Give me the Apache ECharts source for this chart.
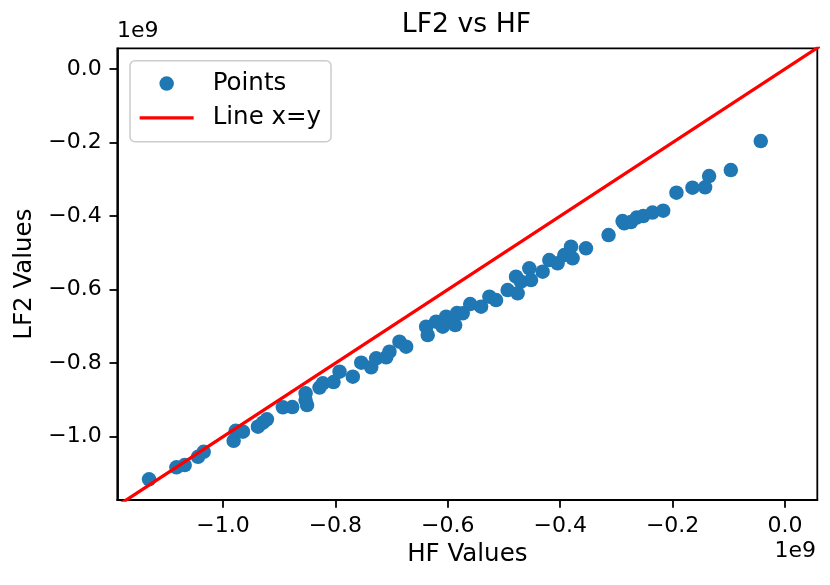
<!DOCTYPE html>
<html>
<head>
<meta charset="utf-8">
<script src="https://cdn.jsdelivr.net/npm/echarts@6/dist/echarts.min.js"></script>
<style>
  html, body { margin: 0; padding: 0; background: #fff; }
  #chart-container { width: 830px; height: 585px; }
</style>
</head>
<body>
<div id="chart-container"></div>
<script>
// values in units of 1e9
const hfValues = [
  -1.1315, -1.0828, -1.0681, -1.0444, -1.0343, -0.9810, -0.9774, -0.9645, -0.9378, -0.9289,
  -0.9218, -0.8934, -0.8767, -0.8504, -0.8530, -0.8530, -0.8282, -0.8223, -0.8033, -0.7926,
  -0.7690, -0.7540, -0.7363, -0.7274, -0.7096, -0.7038, -0.6860, -0.6741, -0.6385, -0.6357,
  -0.6208, -0.6090, -0.6030, -0.5868, -0.5838, -0.5735, -0.5602, -0.5408, -0.5260, -0.5141,
  -0.4935, -0.4757, -0.4786, -0.4697, -0.4550, -0.4519, -0.4313, -0.4194, -0.4047, -0.3927,
  -0.3808, -0.3780, -0.3542, -0.3140, -0.2891, -0.2861, -0.2742, -0.2639, -0.2524, -0.2358,
  -0.2168, -0.1932, -0.1647, -0.1422, -0.1351, -0.0965, -0.0432
];
const lf2Values = [
  -1.1159, -1.0832, -1.0770, -1.0544, -1.0408, -1.0109, -0.9837, -0.9864, -0.9728, -0.9619,
  -0.9527, -0.9200, -0.9192, -0.9138, -0.8820, -0.9002, -0.8662, -0.8548, -0.8512, -0.8232,
  -0.8368, -0.7987, -0.8113, -0.7868, -0.7841, -0.7688, -0.7416, -0.7552, -0.7008, -0.7234,
  -0.6872, -0.7008, -0.6736, -0.6962, -0.6636, -0.6644, -0.6391, -0.6464, -0.6193, -0.6282,
  -0.6010, -0.6100, -0.5649, -0.5785, -0.5420, -0.5738, -0.5513, -0.5194, -0.5284, -0.5058,
  -0.4833, -0.5148, -0.4876, -0.4515, -0.4134, -0.4196, -0.4161, -0.4039, -0.3998, -0.3903,
  -0.3854, -0.3364, -0.3228, -0.3217, -0.2910, -0.2747, -0.1958
];
const lineRange = [-1.3, 0.2];
const xTicks = [-1.0, -0.8, -0.6, -0.4, -0.2, 0.0];
const yTicks = [-1.0, -0.8, -0.6, -0.4, -0.2, 0.0];

var dom = document.getElementById("chart-container");
var myChart = echarts.init(dom, null, { renderer: "canvas" });

const font = "DejaVu Sans";
const fmt = (v) => (v < -1e-9 ? "\u2212" : "") + Math.abs(v).toFixed(1);

const axisCommon = {
  type: "value",
  splitLine: { show: false },
  axisLine: { show: true, onZero: false, lineStyle: { color: "#000", width: 1.8 } },
  axisTick: { show: true, length: 7.8, lineStyle: { color: "#000", width: 1.8 } },
  nameTextStyle: { fontFamily: font, fontSize: 24.5, color: "#000" }
};

var option = {
  animation: false,
  title: {
    text: "LF2 vs HF",
    left: 466.5,
    top: 12,
    padding: 0,
    textAlign: "center",
    textStyle: { fontFamily: font, fontSize: 26.7, fontWeight: "normal", color: "#000" }
  },
  grid: {
    left: 117.3,
    right: 12.7,
    top: 48.3,
    bottom: 85,
    show: true,
    borderColor: "#000",
    borderWidth: 1.8
  },
  legend: {
    left: 130,
    top: 60.7,
    orient: "vertical",
    itemWidth: 54,
    itemHeight: 14.5,
    itemGap: 9.2,
    padding: [10.4, 10, 11.5, 8],
    backgroundColor: "rgba(255,255,255,0.8)",
    borderColor: "#cccccc",
    borderWidth: 1.5,
    borderRadius: 5,
    textStyle: { fontFamily: font, fontSize: 24.5, color: "#000", padding: [0, 0, 0, 14] },
    data: [
      { name: "Points", icon: "circle" },
      {
        name: "Line x=y",
        itemStyle: { color: "rgba(0,0,0,0)", opacity: 0, borderWidth: 0 },
        lineStyle: { color: "#ff0000", width: 3.3, opacity: 1 }
      }
    ]
  },
  xAxis: Object.assign({}, axisCommon, {
    min: -1.188,
    max: 0.0574,
    name: "HF Values",
    nameLocation: "middle",
    nameGap: 41,
    axisTick: Object.assign({}, axisCommon.axisTick, { customValues: xTicks }),
    axisLabel: { customValues: xTicks, formatter: fmt, margin: 15.6, fontFamily: font, fontSize: 22, color: "#000" }
  }),
  yAxis: Object.assign({}, axisCommon, {
    min: -1.172,
    max: 0.0563,
    name: "LF2 Values",
    nameLocation: "middle",
    nameGap: 80,
    axisTick: Object.assign({}, axisCommon.axisTick, { customValues: yTicks }),
    axisLabel: { customValues: yTicks, formatter: fmt, margin: 15.6, fontFamily: font, fontSize: 22, color: "#000" }
  }),
  graphic: [
    {
      type: "text",
      left: 117,
      top: 20,
      style: { text: "1e9", font: "22px DejaVu Sans", fill: "#000" }
    },
    {
      type: "text",
      right: 14,
      top: 540,
      style: { text: "1e9", font: "22px DejaVu Sans", fill: "#000" }
    }
  ],
  series: [
    {
      name: "Points",
      type: "scatter",
      symbol: "circle",
      symbolSize: 14.5,
      itemStyle: { color: "#1f77b4", opacity: 1 },
      data: hfValues.map((x, i) => [x, lf2Values[i]])
    },
    {
      name: "Line x=y",
      type: "line",
      symbol: "none",
      clip: true,
      lineStyle: { color: "#ff0000", width: 3.3 },
      itemStyle: { color: "#ff0000" },
      data: lineRange.map((v) => [v, v])
    }
  ]
};

if (option && typeof option === "object") {
  myChart.setOption(option);
}

window.addEventListener("resize", myChart.resize);
</script>
</body>
</html>
